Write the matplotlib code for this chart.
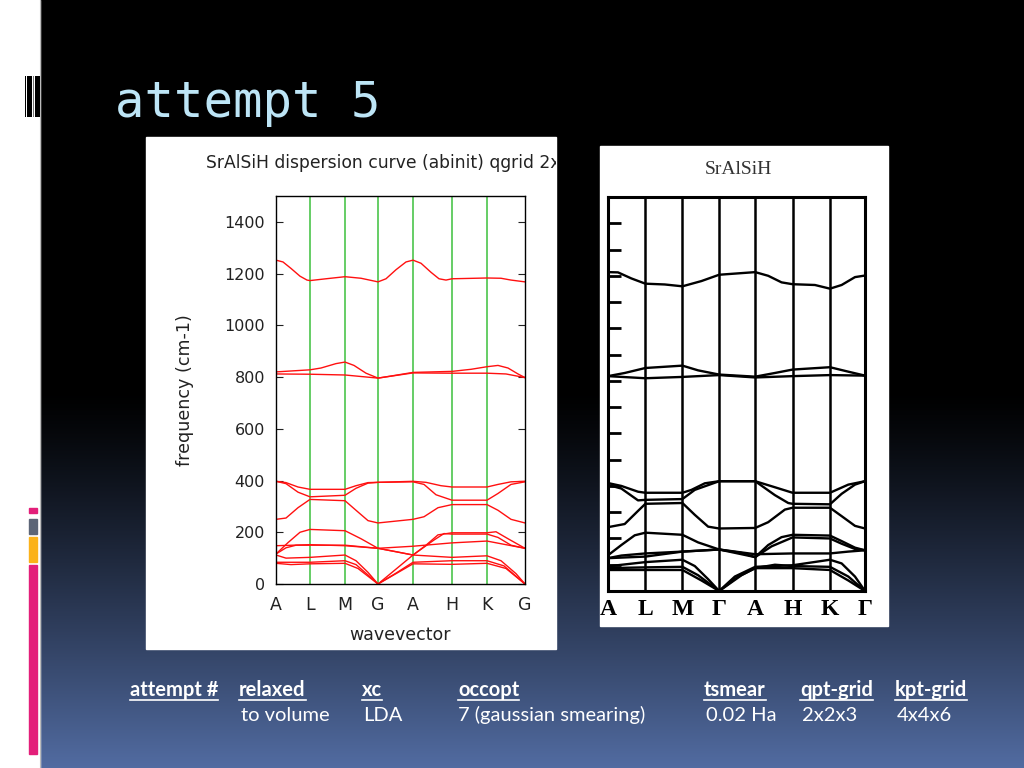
import numpy as np
import matplotlib
matplotlib.use("Agg")
import matplotlib.pyplot as plt
from matplotlib.lines import Line2D
from matplotlib.patches import Rectangle

# ---- data: left plot (abinit), x = path distance, y = frequency (cm-1)
abinit_labels = ["A", "L", "M", "G", "A", "H", "K", "G"]
abinit_nodes = [0, 34, 69, 102, 137, 176, 211, 249]

abinit_bands = [
    # 1200 band
    [(0, 1252), (7, 1245), (15, 1220), (24, 1190), (31, 1175), (34, 1173), (50, 1180), (69, 1188),
     (85, 1182), (102, 1168), (110, 1180), (120, 1215), (130, 1245), (137, 1252), (145, 1240),
     (155, 1205), (163, 1180), (170, 1175), (176, 1180), (211, 1183), (225, 1182), (235, 1175), (249, 1168)],
    # 800 bands
    [(0, 820), (34, 828), (45, 835), (60, 852), (69, 858), (78, 845), (90, 815), (102, 796), (115, 804),
     (137, 818), (176, 822), (195, 830), (211, 840), (222, 845), (232, 835), (242, 812), (249, 798)],
    [(0, 812), (34, 811), (69, 808), (102, 796), (137, 816), (176, 815), (211, 815), (230, 812), (249, 798)],
    # 200-400 bands
    [(0, 397), (10, 392), (22, 375), (34, 366), (69, 366), (80, 380), (92, 392), (102, 393), (137, 397),
     (150, 393), (165, 380), (176, 375), (211, 375), (222, 385), (235, 395), (249, 397)],
    [(0, 397), (10, 388), (22, 355), (34, 337), (69, 343), (80, 370), (92, 390), (102, 393), (137, 395),
     (148, 385), (160, 345), (176, 324), (211, 324), (222, 350), (235, 385), (249, 395)],
    [(0, 250), (10, 255), (22, 295), (34, 327), (69, 322), (80, 285), (92, 245), (102, 236), (137, 250),
     (148, 260), (162, 295), (176, 307), (211, 307), (222, 285), (235, 250), (249, 236)],
    # low bands
    [(0, 116), (12, 160), (24, 200), (34, 211), (69, 206), (85, 175), (102, 138), (137, 146), (176, 159),
     (211, 166), (230, 152), (249, 138)],
    [(0, 116), (10, 140), (20, 150), (34, 150), (69, 150), (102, 138), (137, 112), (150, 150), (162, 190),
     (176, 198), (211, 198), (220, 202), (232, 175), (249, 138)],
    [(0, 148), (34, 152), (69, 148), (102, 138), (120, 125), (137, 112), (158, 170), (168, 195), (176, 193),
     (211, 193), (222, 180), (235, 150), (249, 138)],
    [(0, 112), (10, 100), (34, 103), (69, 112), (80, 90), (92, 45), (102, 0), (137, 112), (176, 103),
     (211, 109), (225, 90), (240, 40), (249, 0)],
    [(0, 84), (34, 84), (69, 90), (80, 75), (92, 35), (102, 0), (120, 42), (137, 84), (176, 90), (211, 90),
     (228, 70), (249, 0)],
    [(0, 80), (15, 75), (34, 78), (69, 80), (82, 60), (102, 0), (120, 40), (137, 78), (176, 76), (211, 80),
     (230, 60), (249, 0)],
]

# ---- data: right plot (reference)
ref_labels = ["A", "L", "M", "Γ", "A", "H", "K", "Γ"]
ref_nodes = [0, 112, 223, 333, 441, 553, 665, 770]

ref_bands = [
    [(0, 1214), (30, 1213), (70, 1190), (112, 1170), (170, 1167), (223, 1160), (280, 1180), (333, 1204),
     (441, 1214), (480, 1200), (520, 1175), (553, 1168), (620, 1165), (665, 1151), (700, 1165),
     (740, 1195), (770, 1201)],
    [(0, 818), (50, 830), (112, 849), (223, 858), (270, 840), (333, 824), (441, 816), (500, 830),
     (553, 843), (665, 852), (720, 835), (770, 820)],
    [(0, 818), (112, 810), (223, 815), (333, 822), (441, 813), (553, 818), (665, 822), (770, 820)],
    [(0, 411), (40, 400), (90, 378), (112, 374), (223, 374), (250, 385), (290, 410), (333, 418),
     (441, 418), (500, 395), (553, 374), (665, 374), (720, 405), (770, 418)],
    [(0, 404), (40, 390), (90, 345), (112, 347), (223, 350), (260, 385), (333, 418), (441, 418),
     (500, 365), (540, 335), (553, 332), (665, 330), (700, 370), (740, 405), (770, 418)],
    [(0, 243), (50, 255), (90, 305), (112, 332), (223, 335), (260, 290), (300, 245), (333, 238),
     (441, 240), (480, 262), (530, 310), (553, 317), (665, 317), (700, 285), (740, 248), (770, 238)],
    [(0, 136), (40, 175), (80, 212), (112, 222), (223, 214), (270, 185), (333, 158), (400, 140),
     (441, 129), (480, 175), (520, 205), (553, 214), (665, 211), (700, 190), (740, 165), (770, 155)],
    [(0, 125), (40, 135), (112, 143), (223, 150), (333, 158), (400, 145), (441, 129), (490, 170),
     (553, 204), (665, 200), (700, 180), (740, 160), (770, 155)],
    [(0, 125), (112, 131), (223, 150), (333, 158), (441, 140), (553, 143), (665, 143), (720, 150), (770, 155)],
    [(0, 94), (112, 110), (223, 119), (260, 95), (300, 45), (333, 0), (380, 55), (441, 92), (553, 98),
     (665, 119), (700, 105), (740, 55), (770, 0)],
    [(0, 87), (112, 90), (223, 92), (270, 60), (333, 0), (390, 55), (441, 87), (500, 100), (553, 95),
     (665, 92), (720, 55), (770, 0)],
    [(0, 80), (112, 80), (223, 80), (280, 40), (333, 0), (400, 60), (441, 87), (553, 87), (665, 80),
     (720, 40), (770, 0)],
]

table_headers = ["attempt #", "relaxed", "xc", "occopt", "tsmear", "qpt-grid", "kpt-grid"]
header_x = [130, 239, 362, 458, 704, 800, 895]
table_values = ["to volume", "LDA", "7 (gaussian smearing)", "0.02 Ha", "2x2x3", "4x4x6"]
value_x = [241, 363, 458, 706, 802, 897]

W, H = 1024, 768


def fx(px):
    return px / W


def fy(py):
    return 1 - py / H


fig = plt.figure(figsize=(10.24, 7.68), dpi=100)

# ---- slide background
bg = fig.add_axes([0, 0, 1, 1])
bg.set_xlim(0, W)
bg.set_ylim(H, 0)
bg.axis("off")
rows = np.arange(H)
t = np.clip((rows - 390) / (H - 390), 0, 1) ** 1.2
bottom_col = np.array([82, 108, 162]) / 255
grad = np.outer(t, bottom_col)[:, None, :] * np.ones((1, 2, 1))
bg.imshow(grad, extent=[40, W, H, 0], aspect="auto", zorder=0)
bg.add_patch(Rectangle((0, 0), 40, H, color="white", zorder=1))
bg.plot([40, 40], [0, H], color="#bbbbbb", lw=0.8, zorder=2)
# barcode
for x0, w, c in [(24.7, 1.0, "black"), (27.3, 1.4, "black"), (29.4, 3.0, "black"),
                 (32.6, 1.8, "#777777"), (34.6, 5.4, "black")]:
    bg.add_patch(Rectangle((x0, 76), w, 41, color=c, zorder=2, lw=0))
# colour bars
for y0, h, c in [(508, 5, "#e31f7a"), (519, 15, "#5c6577"), (537, 25, "#fbb21a"), (565, 189, "#e31f7a")]:
    bg.add_patch(Rectangle((29, y0), 8, h, color=c, zorder=2))

fig.text(fx(115), fy(117), "attempt 5", family="DejaVu Sans Mono", fontsize=35.3,
         color="#bde5f6", va="baseline", ha="left")

# ---- left plot panel
bg.add_patch(Rectangle((146, 137), 410, 512, color="white", zorder=3))
panel = fig.add_axes([fx(146), fy(649), 410 / W, 512 / H])
panel.axis("off")
panel.set_xlim(0, 1)
panel.set_ylim(0, 1)
panel.text(60 / 410, 1 - 26 / 512, "SrAlSiH dispersion curve (abinit) qgrid 2x2x3",
           fontsize=12.35, color="#222222", va="center", ha="left", clip_on=True,
           family="DejaVu Sans")

ax = fig.add_axes([fx(276), fy(584), 249 / W, 388 / H])
for xn in abinit_nodes[1:-1]:
    ax.axvline(xn, color="#3cc03c", lw=1.1)
for band in abinit_bands:
    bx, by = zip(*band)
    ax.plot(bx, by, color="#ff1010", lw=1.0)
ax.set_xlim(abinit_nodes[0], abinit_nodes[-1])
ax.set_ylim(0, 1500)
ax.set_yticks(range(0, 1401, 200))
ax.set_xticks(abinit_nodes)
ax.set_xticklabels(abinit_labels)
ax.tick_params(axis="y", direction="in", length=5, width=0.8, right=True, labelsize=11.5,
               pad=8, colors="#222222")
ax.tick_params(axis="x", length=0, labelsize=12.5, pad=9, colors="#222222")
ax.set_ylabel("frequency (cm-1)", fontsize=12.6, color="#222222", labelpad=22)
ax.set_xlabel("wavevector", fontsize=12.5, color="#222222", labelpad=8)
for s in ax.spines.values():
    s.set_linewidth(1.0)
    s.set_color("black")

# ---- right plot panel
bg.add_patch(Rectangle((600, 146), 288, 480, color="white", zorder=3))
fig.text(fx(738), fy(170), "SrAlSiH", family="Liberation Serif", fontsize=14,
         color="#333333", ha="center", va="center")

ax2 = fig.add_axes([fx(608), fy(591), 257 / W, 394 / H])
for xn in ref_nodes[1:-1]:
    ax2.axvline(xn, color="black", lw=1.8)
for band in ref_bands:
    bx, by = zip(*band)
    ax2.plot(bx, by, color="black", lw=1.7)
ax2.set_xlim(ref_nodes[0], ref_nodes[-1])
ax2.set_ylim(0, 1500)
ax2.set_yticks(range(100, 1401, 100))
ax2.set_yticklabels([])
ax2.set_xticks(ref_nodes)
ax2.set_xticklabels(ref_labels, family="Liberation Serif", fontweight="bold", fontsize=17)
ax2.tick_params(axis="y", direction="in", length=9, width=2)
ax2.tick_params(axis="x", length=0, pad=6)
for s in ax2.spines.values():
    s.set_linewidth(2.2)
    s.set_color("black")

# ---- parameter table
heads = []
for txt, x in zip(table_headers, header_x):
    heads.append(fig.text(fx(x), fy(696), txt, family="Lato", fontweight="bold",
                          fontsize=14.5, color="white", va="baseline", ha="left"))
for txt, x in zip(table_values, value_x):
    fig.text(fx(x), fy(721), txt, family="Lato", fontsize=14.5, color="white",
             va="baseline", ha="left")

fig.canvas.draw()
r = fig.canvas.get_renderer()
for tx in heads:
    bb = tx.get_window_extent(r)
    y = fy(700)
    fig.add_artist(Line2D([bb.x0 / W, bb.x1 / W], [y, y], color="white", lw=1.2))

fig.savefig("out.png", dpi=100)
